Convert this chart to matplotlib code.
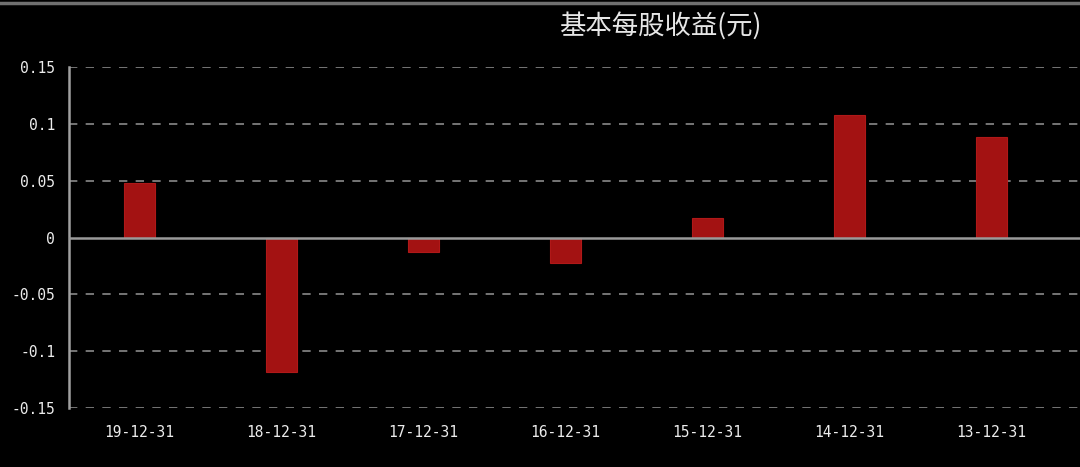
import matplotlib
matplotlib.use("Agg")
import matplotlib.pyplot as plt
from matplotlib.lines import Line2D

categories = ["19-12-31", "18-12-31", "17-12-31", "16-12-31", "15-12-31", "14-12-31", "13-12-31"]
values = [0.048, -0.118, -0.013, -0.022, 0.0175, 0.108, 0.088]
yticks = [-0.15, -0.1, -0.05, 0, 0.05, 0.1, 0.15]
ytick_labels = ["-0.15", "-0.1", "-0.05", "0", "0.05", "0.1", "0.15"]
title = "基本每股收益(元)"

plt.rcParams['font.family'] = ['Noto Sans CJK SC', 'DejaVu Sans']

fig = plt.figure(figsize=(10.8, 4.67), dpi=100, facecolor="black")
ax = fig.add_axes([69/1080, 1-408/467, 1-69/1080, (408-67)/467])
ax.set_facecolor("black")

x = list(range(len(categories)))
ax.bar(x, values, width=0.218, color="#a31212", edgecolor="#b01818", linewidth=0.8, zorder=3)

ax.set_xlim(-0.496, 6.623)
ax.set_ylim(-0.15, 0.15)
ax.set_yticks(yticks)
ax.set_yticklabels(ytick_labels)
ax.set_xticks(x)
ax.set_xticklabels(categories)

for t in yticks:
    if t != 0:
        ax.axhline(t, color="#8a8a8a", linestyle=(0, (5, 5)), linewidth=1.2, zorder=1)
ax.axhline(0, color="#9a9a9a", linewidth=1.8, zorder=4)

for s in ["top", "right", "bottom"]:
    ax.spines[s].set_visible(False)
ax.spines["left"].set_color("#a0a0a0")
ax.spines["left"].set_linewidth(1.8)

ax.tick_params(axis="both", length=0, colors="#ececec", labelsize=10.5)
ax.tick_params(axis="y", pad=10)
ax.tick_params(axis="x", pad=12)
for lab in ax.get_xticklabels() + ax.get_yticklabels():
    lab.set_family(["DejaVu Sans Mono"])

fig.text(660/1080, 1-26/467, title, color="#e6e6e6", fontsize=19, ha="center", va="center",
         family=["Noto Sans CJK SC", "DejaVu Sans"])

fig.add_artist(Line2D([0, 1], [1-3/467, 1-3/467], color="#707070", linewidth=2.5, transform=fig.transFigure))

fig.savefig("out.png", dpi=100, facecolor="black")
